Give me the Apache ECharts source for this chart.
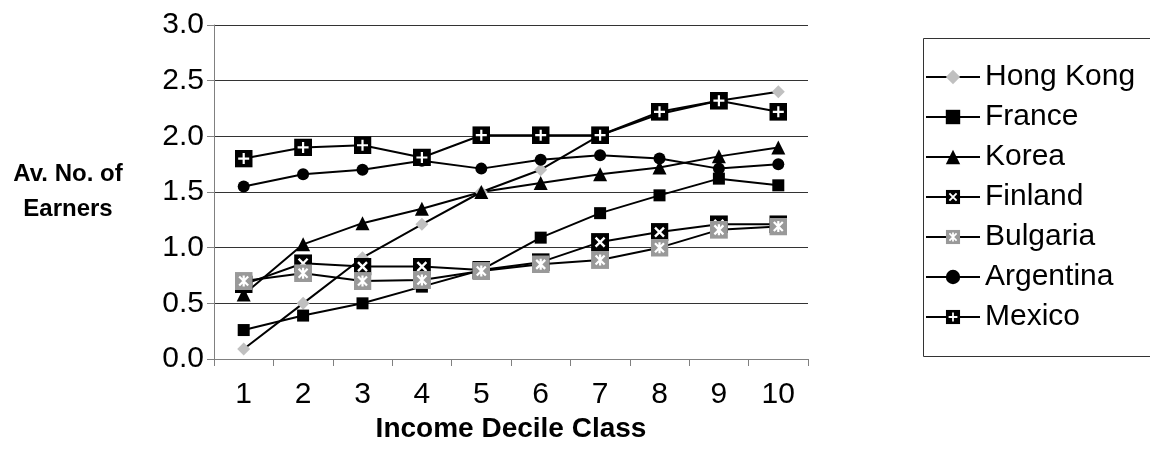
<!DOCTYPE html>
<html>
<head>
<meta charset="utf-8">
<script src="https://cdn.jsdelivr.net/npm/echarts@6/dist/echarts.min.js"></script>
<style>
html,body{margin:0;padding:0;background:#fff;}
#chart{width:1150px;height:452px;}
</style>
</head>
<body>
<div id="chart"></div>
<script>
var categories = ['1','2','3','4','5','6','7','8','9','10'];
var yTicks = [0, 0.5, 1.0, 1.5, 2.0, 2.5, 3.0];
var hongKong  = [0.09, 0.50, 0.91, 1.21, 1.50, 1.70, 2.01, 2.20, 2.32, 2.40];
var france    = [0.26, 0.39, 0.50, 0.65, 0.80, 1.09, 1.31, 1.47, 1.62, 1.56];
var korea     = [0.58, 1.03, 1.22, 1.35, 1.50, 1.58, 1.66, 1.72, 1.82, 1.90];
var finland   = [0.67, 0.86, 0.83, 0.83, 0.80, 0.87, 1.05, 1.14, 1.21, 1.21];
var bulgaria  = [0.70, 0.77, 0.70, 0.71, 0.79, 0.85, 0.89, 1.00, 1.16, 1.19];
var argentina = [1.55, 1.66, 1.70, 1.78, 1.71, 1.79, 1.83, 1.80, 1.71, 1.75];
var mexico    = [1.80, 1.90, 1.92, 1.81, 2.01, 2.01, 2.01, 2.22, 2.32, 2.22];

function svgSym(inner, bg) {
  var s = "<svg xmlns='http://www.w3.org/2000/svg' width='36' height='36' viewBox='0 0 18 18'>" +
          "<rect x='0' y='0' width='18' height='18' fill='" + bg + "'/>" + inner + "</svg>";
  return 'image://data:image/svg+xml;charset=utf-8,' + encodeURIComponent(s);
}
var symFinland = svgSym("<path d='M4.5 4.5L13.5 13.5M13.5 4.5L4.5 13.5' stroke='#fff' stroke-width='2.4' fill='none'/>", '#000');
var symBulgaria = svgSym("<path d='M4.5 4.5L13.5 13.5M13.5 4.5L4.5 13.5M9 3.5L9 14.5' stroke='#fff' stroke-width='2.2' fill='none'/>", '#999999');
var symMexico = svgSym("<path d='M9 3.5L9 14.5M3.5 9L14.5 9' stroke='#fff' stroke-width='2.2' fill='none'/>", '#000');

var FONT = 'Arial, "Liberation Sans", sans-serif';

function mk(name, data, symbol, size, color) {
  return {
    name: name, type: 'line', data: data,
    symbol: symbol, symbolSize: size, symbolKeepAspect: true,
    showAllSymbol: true,
    lineStyle: {color: '#000', width: 2},
    itemStyle: {color: color, opacity: 1},
    emphasis: {disabled: true},
    z: 2
  };
}

var chart = echarts.init(document.getElementById('chart'), null, {renderer: 'canvas'});
chart.setOption({
  animation: false,
  backgroundColor: '#fff',
  textStyle: {fontFamily: FONT},
  grid: {left: 214, right: 342, top: 25, bottom: 93, containLabel: false},
  graphic: [{
    type: 'rect', left: 921, top: 36, silent: true,
    shape: {x: 0, y: 0, width: 240, height: 318},
    style: {fill: 'none', stroke: '#333', lineWidth: 1}
  }],
  legend: {
    orient: 'vertical', left: 925, top: 62, padding: 0,
    itemWidth: 54, itemHeight: 18, itemGap: 10,
    lineStyle: {width: 2, color: '#000'},
    textStyle: {fontFamily: FONT, fontSize: 30, color: '#000', lineHeight: 30},
    data: ['Hong Kong','France','Korea','Finland','Bulgaria','Argentina','Mexico']
  },
  xAxis: {
    type: 'category', data: categories, boundaryGap: true,
    name: 'Income Decile Class', nameLocation: 'middle', nameGap: 51,
    nameTextStyle: {fontFamily: FONT, fontSize: 28, fontWeight: 'bold', color: '#000'},
    axisLine: {lineStyle: {color: '#808080', width: 1}},
    axisTick: {show: true, alignWithLabel: false, length: 7, lineStyle: {color: '#808080'}},
    axisLabel: {fontFamily: FONT, fontSize: 30, color: '#000', margin: 21},
    splitLine: {show: false}
  },
  yAxis: {
    type: 'value', min: yTicks[0], max: yTicks[yTicks.length - 1], interval: 0.5,
    name: 'Av. No. of\nEarners', nameLocation: 'middle', nameGap: 146, nameRotate: 0,
    nameTextStyle: {fontFamily: FONT, fontSize: 24, fontWeight: 'bold', color: '#000', align: 'center', lineHeight: 35,
      padding: [4, 0, 0, 0]},
    axisLine: {show: true, lineStyle: {color: '#808080', width: 1}},
    axisTick: {show: true, length: 7, lineStyle: {color: '#808080'}},
    axisLabel: {fontFamily: FONT, fontSize: 30, color: '#000', margin: 10,
      formatter: function (v) { return v.toFixed(1); }},
    splitLine: {show: true, lineStyle: {color: '#333', width: 1}}
  },
  series: [
    mk('Hong Kong', hongKong, 'diamond', 13, '#c0c0c0'),
    mk('France', france, 'rect', 12, '#000'),
    mk('Korea', korea, 'triangle', 14, '#000'),
    mk('Finland', finland, symFinland, 18, '#000'),
    mk('Bulgaria', bulgaria, symBulgaria, 18, '#999999'),
    mk('Argentina', argentina, 'circle', 12, '#000'),
    mk('Mexico', mexico, symMexico, 18, '#000')
  ]
});
</script>
</body>
</html>
